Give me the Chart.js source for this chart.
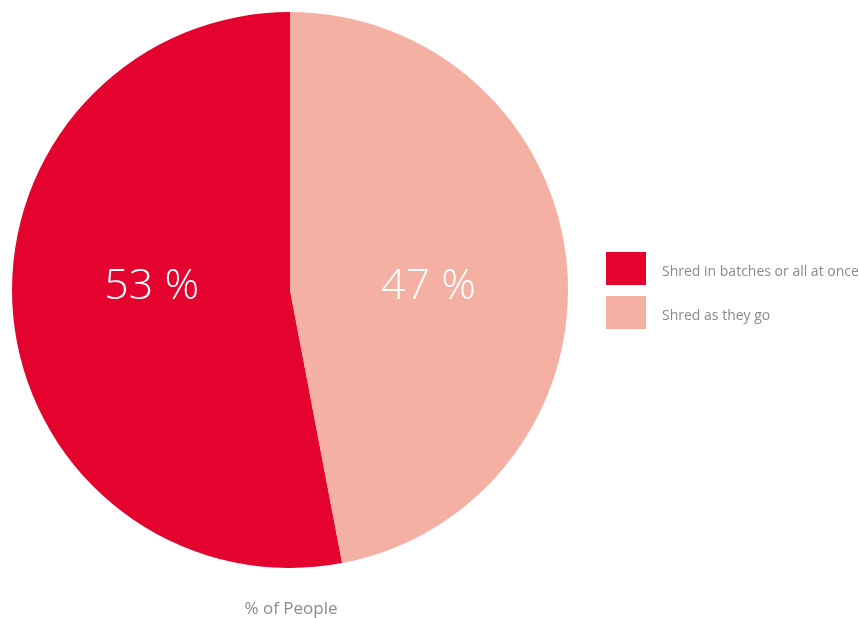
<!DOCTYPE html>
<html>
<head>
<meta charset="utf-8">
<script src="https://cdn.jsdelivr.net/npm/chart.js@4/dist/chart.umd.min.js"></script>
<style>
html,body{margin:0;padding:0;background:#fff;}
#wrap{width:859px;height:618px;position:relative;}
</style>
</head>
<body>
<div id="wrap"><canvas id="c" width="859" height="618"></canvas></div>
<script>
const categories = ["Shred in batches or all at once", "Shred as they go"];
const values = [53, 47];
const colors = ["#E4032E", "#F4B0A3"];
const valueLabels = ["53 %", "47 %"];
const axisTitle = "% of People";

const total = values.reduce((a,b)=>a+b,0);
const startRotation = 360 * (total - values[0]) / total; // first slice ends at 12 o'clock

const overlay = {
  id: 'overlay',
  afterDatasetsDraw(chart) {
    const ctx = chart.ctx;
    const meta = chart.getDatasetMeta(0);
    ctx.save();
    // value labels
    ctx.fillStyle = '#ffffff';
    ctx.font = '300 43px "Open Sans", sans-serif';
    ctx.textAlign = 'center';
    ctx.textBaseline = 'middle';
    meta.data.forEach((arc, i) => {
      const mid = (arc.startAngle + arc.endAngle) / 2;
      const r = arc.outerRadius * 0.50;
      const x = arc.x + Math.cos(mid) * r;
      const y = arc.y - 3;
      ctx.fillText(valueLabels[i], x, y);
    });
    // legend
    const ca = chart.chartArea;
    const lx = ca.right + 38;
    let ly = (ca.top + ca.bottom) / 2 - 38;
    ctx.font = '14px "Open Sans", sans-serif';
    ctx.textAlign = 'left';
    categories.forEach((c, i) => {
      ctx.fillStyle = colors[i];
      ctx.fillRect(lx, ly, 40, 33);
      ctx.fillStyle = '#8a8a8a';
      ctx.fillText(c, lx + 56, ly + 20);
      ly += 44;
    });
    // bottom title
    ctx.font = '17px "Open Sans", sans-serif';
    ctx.textAlign = 'center';
    ctx.fillStyle = '#8a8a8a';
    ctx.fillText(axisTitle, (ca.left + ca.right) / 2 + 1, 609);
    ctx.restore();
  }
};

new Chart(document.getElementById('c'), {
  type: 'pie',
  data: {
    labels: categories,
    datasets: [{
      data: values,
      backgroundColor: colors,
      borderWidth: 0
    }]
  },
  options: {
    responsive: false,
    animation: false,
    rotation: startRotation,
    layout: { padding: { left: 12, top: 12, right: 291, bottom: 50 } },
    plugins: {
      legend: { display: false },
      tooltip: { enabled: false },
      title: { display: false }
    }
  },
  plugins: [overlay]
});
</script>
</body>
</html>
